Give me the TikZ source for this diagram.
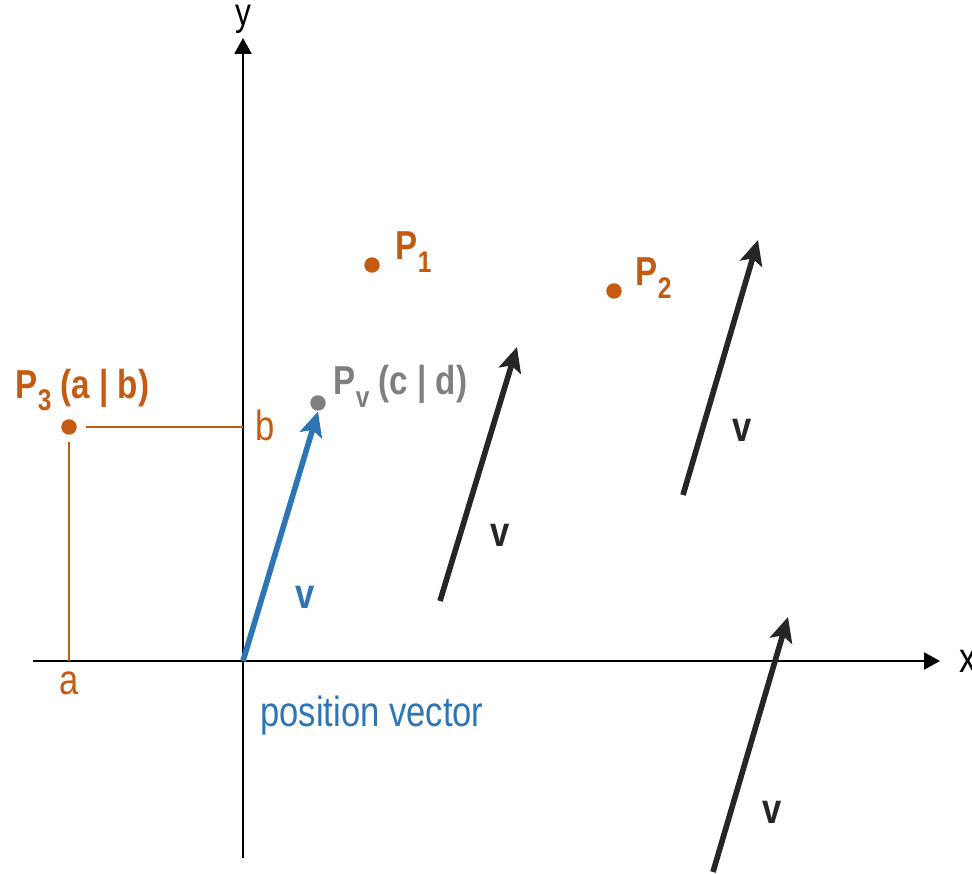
\documentclass[tikz,border=0pt]{standalone}
\usepackage{fontspec}
\setmainfont[FakeStretch=0.82]{Liberation Sans}
\usetikzlibrary{arrows.meta}

\newcommand{\lowsub}[1]{\raisebox{-3.6pt}{\fontsize{8.5}{9}\selectfont #1}}

\begin{document}
\begin{tikzpicture}[
    font=\fontsize{12}{14}\selectfont,
    pointDot/.style={circle, fill, inner sep=0pt, minimum size=4.4pt},
    vecArrow/.style={line width=1.6pt, -{Stealth[length=7pt,width=6.5pt,inset=1.5pt]}},
    pointLabel/.style={anchor=base west, inner sep=0pt, font=\fontsize{11.5}{13}\selectfont\bfseries},
    vecLabel/.style={font=\fontsize{12}{14}\selectfont\bfseries}
]
    \definecolor{pointColour}{HTML}{C55A11}
    \definecolor{posColour}{HTML}{2E75B6}
    \definecolor{tipColour}{HTML}{7F7F7F}
    \definecolor{vecColour}{HTML}{262626}

    \useasboundingbox (-2.43,-2.13) rectangle (7.29,6.61);

    % Draw axes
    \coordinate (xStart) at (-2.10,0);
    \coordinate (xEnd) at (6.97,0);
    \coordinate (yStart) at (0,-1.97);
    \coordinate (yEnd) at (0,6.23);
    \draw[line width=0.6pt, -{Triangle[length=4.5pt,width=4.8pt]}] (xStart) -- (xEnd);
    \draw[line width=0.6pt, -{Triangle[length=4.5pt,width=4.8pt]}] (yStart) -- (yEnd);
    \node[anchor=west, xshift=2pt] (xLabel) at (xEnd) {x};
    \node[anchor=base, inner sep=0pt, font=\fontsize{11}{13}\selectfont] (yLabel) at (0,6.35) {y};

    % Point P3 and its coordinates a, b
    \node[pointDot, pointColour] (P3) at (-1.74,2.34) {};
    \node[pointLabel, text=pointColour] (P3Label) at (-2.28,2.63) {P\lowsub{3} (a | b)};
    \coordinate (bAxis) at (0,2.34);
    \coordinate (aAxis) at (-1.74,0);
    \draw[pointColour, line width=0.4pt] ([xshift=2.5pt]P3.east) -- (bAxis);
    \draw[pointColour, line width=0.4pt] ([yshift=-2pt]P3.south) -- (aAxis);
    \node[text=pointColour] (bLabel) at (0.22,2.36) {b};
    \node[text=pointColour] (aLabel) at (-1.74,-0.22) {a};

    % Points P1 and P2
    \node[pointDot, pointColour] (P1) at (1.29,3.96) {};
    \node[pointLabel, text=pointColour] (P1Label) at (1.52,4.01) {P\lowsub{1}};
    \node[pointDot, pointColour] (P2) at (3.71,3.70) {};
    \node[pointLabel, text=pointColour] (P2Label) at (3.92,3.75) {P\lowsub{2}};

    % Position vector to Pv
    \coordinate (O) at (0,0);
    \node[pointDot, tipColour] (Pv) at (0.75,2.58) {};
    \node[pointLabel, text=tipColour] (PvLabel) at (0.90,2.66) {P\lowsub{v} (c | d)};
    \draw[vecArrow, posColour] (O) -- (Pv.south);
    \node[vecLabel, text=posColour] (posV) at (0.62,0.64) {v};
    \node[text=posColour] (posText) at (1.29,-0.55) {position vector};

    % Free copies of v
    \coordinate (vA0) at (1.97,0.60);  \coordinate (vA1) at (2.74,3.14);
    \coordinate (vB0) at (4.40,1.66);  \coordinate (vB1) at (5.15,4.21);
    \coordinate (vC0) at (4.70,-2.11); \coordinate (vC1) at (5.45,0.44);
    \foreach \v in {A,B,C}
        \draw[vecArrow, vecColour] (v\v0) -- (v\v1);
    \node[vecLabel, text=vecColour] (vALabel) at (2.57,1.26) {v};
    \node[vecLabel, text=vecColour] (vBLabel) at (4.99,2.31) {v};
    \node[vecLabel, text=vecColour] (vCLabel) at (5.29,-1.51) {v};

\end{tikzpicture}
\end{document}
